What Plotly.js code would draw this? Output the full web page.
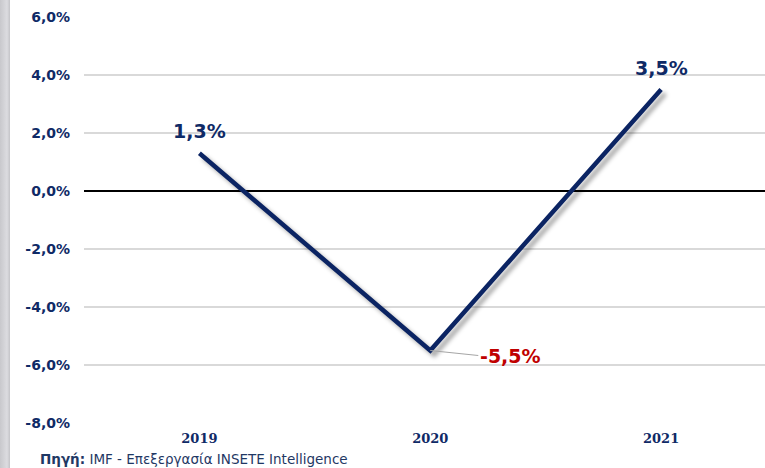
<!DOCTYPE html>
<html>
<head>
<meta charset="utf-8">
<script src="https://cdn.plot.ly/plotly-3.0.1.min.js"></script>
<style>
  html, body { margin: 0; padding: 0; background: #fff; }
  #wrap { position: relative; width: 765px; height: 468px; overflow: hidden; }
  #chart { position: absolute; left: 0; top: 0; width: 765px; height: 468px; }
  #bar { position: absolute; left: 0; top: 0; width: 10px; height: 468px;
         background: linear-gradient(to right, #c8c8cc, #dcdce0 70%, #c4c4c8); z-index: 5; }
  #src { position: absolute; left: 40px; top: 451px; font-family: "DejaVu Sans", sans-serif;
         font-size: 13.5px; color: #1f3864; white-space: nowrap; z-index: 5; }
  #chart .scatterlayer path.js-line { filter: drop-shadow(4px 4px 2px rgba(0,0,0,0.35)); }
</style>
</head>
<body>
<div id="wrap">
  <div id="chart"></div>
  <div id="bar"></div>
  <div id="src"><b>Πηγή:</b> IMF - Επεξεργασία INSETE Intelligence</div>
</div>
<script>
const years = ['2019', '2020', '2021'];
const growth = [1.3, -5.5, 3.5];
const yTickVals = [6, 4, 2, 0, -2, -4, -6, -8];
const yTickText = ['6,0%', '4,0%', '2,0%', '0,0%', '-2,0%', '-4,0%', '-6,0%', '-8,0%'];

const navy = '#0f2a66';
const fmt = v => v.toFixed(1).replace('.', ',') + '%';

const annotations = years.map((yr, i) => {
  const neg = growth[i] < 0;
  if (neg) {
    return {
      x: i, y: growth[i], xref: 'x', yref: 'y',
      text: '<b>' + fmt(growth[i]) + '</b>',
      showarrow: true, arrowhead: 0, arrowwidth: 1.2, arrowcolor: '#a6a6a6',
      ax: 48, ay: 5, xanchor: 'left', yanchor: 'middle', standoff: 0,
      font: { family: 'DejaVu Sans, sans-serif', size: 19, color: '#c00000' }
    };
  }
  return {
    x: i, y: growth[i], xref: 'x', yref: 'y',
    text: '<b>' + fmt(growth[i]) + '</b>',
    showarrow: false, xanchor: 'center', yanchor: 'bottom', yshift: 9,
    font: { family: 'DejaVu Sans, sans-serif', size: 19, color: navy }
  };
});

const trace = {
  x: years, y: growth, type: 'scatter', mode: 'lines',
  line: { color: '#0b2463', width: 4.5 },
  hoverinfo: 'skip'
};

const layout = {
  width: 765, height: 468,
  margin: { l: 84, r: 0, t: 17, b: 45 },
  paper_bgcolor: '#ffffff', plot_bgcolor: '#ffffff',
  showlegend: false,
  xaxis: {
    type: 'category', range: [-0.5, 2.45],
    showgrid: false, zeroline: false, showline: false, ticks: '',
    tickfont: { family: 'DejaVu Serif, serif', size: 13, color: navy, weight: 'bold' },
    ticklabelstandoff: 6
  },
  yaxis: {
    range: [-8, 6], tickvals: yTickVals, ticktext: yTickText,
    showgrid: true, gridcolor: '#d9d9d9', gridwidth: 1.3,
    zeroline: true, zerolinecolor: '#000000', zerolinewidth: 2,
    showline: false, ticks: '',
    tickfont: { family: 'DejaVu Sans, sans-serif', size: 14, color: navy, weight: 'bold' },
    ticklabelstandoff: 13
  },
  annotations: annotations
};

Plotly.newPlot('chart', [trace], layout, { displayModeBar: false, staticPlot: true });
</script>
</body>
</html>
